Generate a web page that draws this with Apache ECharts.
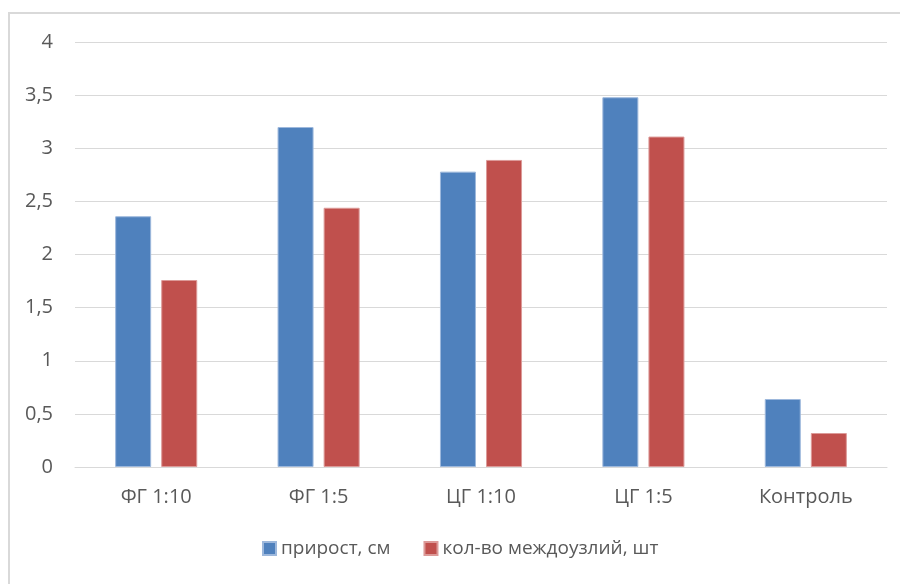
<!DOCTYPE html>
<html>
<head>
<meta charset="utf-8">
<script src="https://cdn.jsdelivr.net/npm/echarts@6/dist/echarts.min.js"></script>
<style>
html,body{margin:0;padding:0;background:#fff;}
#chart{width:900px;height:584px;}
</style>
</head>
<body>
<div id="chart"></div>
<script>
const categories = ['ФГ 1:10', 'ФГ 1:5', 'ЦГ 1:10', 'ЦГ 1:5', 'Контроль'];
const growth = [2.36, 3.2, 2.78, 3.48, 0.64];
const internodes = [1.76, 2.44, 2.89, 3.11, 0.32];
const seriesNames = ['прирост, см', 'кол-во междоузлий, шт'];
const colors = ['#4F81BD', '#C0504D'];

const chart = echarts.init(document.getElementById('chart'), null, {renderer: 'canvas'});
const font = 'Open Sans, Liberation Sans, sans-serif';
chart.setOption({
  animation: false,
  backgroundColor: '#fff',
  graphic: [{
    type: 'rect',
    shape: {x: 9, y: 13, width: 1000, height: 1000},
    style: {fill: 'none', stroke: '#d9d9d9', lineWidth: 2},
    silent: true,
    z: -1
  }],
  grid: {left: 75, right: 13, top: 42, bottom: 117, containLabel: false},
  legend: {
    bottom: 21,
    left: 257,
    itemWidth: 13,
    itemHeight: 13,
    itemGap: 33,
    icon: 'rect',
    textStyle: {color: '#595959', fontSize: 19, fontFamily: font},
    data: seriesNames
  },
  xAxis: {
    type: 'category',
    data: categories,
    axisLine: {lineStyle: {color: '#d9d9d9', width: 1}},
    axisTick: {show: false},
    axisLabel: {color: '#595959', fontSize: 20, fontFamily: font, margin: 20}
  },
  yAxis: {
    type: 'value',
    min: 0,
    max: 4,
    interval: 0.5,
    axisLine: {show: false},
    axisTick: {show: false},
    splitLine: {lineStyle: {color: '#d9d9d9', width: 1}},
    axisLabel: {
      color: '#595959', fontSize: 20, fontFamily: font, margin: 22,
      formatter: v => String(v).replace('.', ',')
    }
  },
  series: [
    {
      name: seriesNames[0], type: 'bar', data: growth,
      barWidth: 36, barGap: '28%',
      itemStyle: {color: colors[0], borderColor: '#9db8dc', borderWidth: 1}
    },
    {
      name: seriesNames[1], type: 'bar', data: internodes,
      barWidth: 36, barGap: '28%',
      itemStyle: {color: colors[1], borderColor: '#dc9a98', borderWidth: 1}
    }
  ]
});
</script>
</body>
</html>
